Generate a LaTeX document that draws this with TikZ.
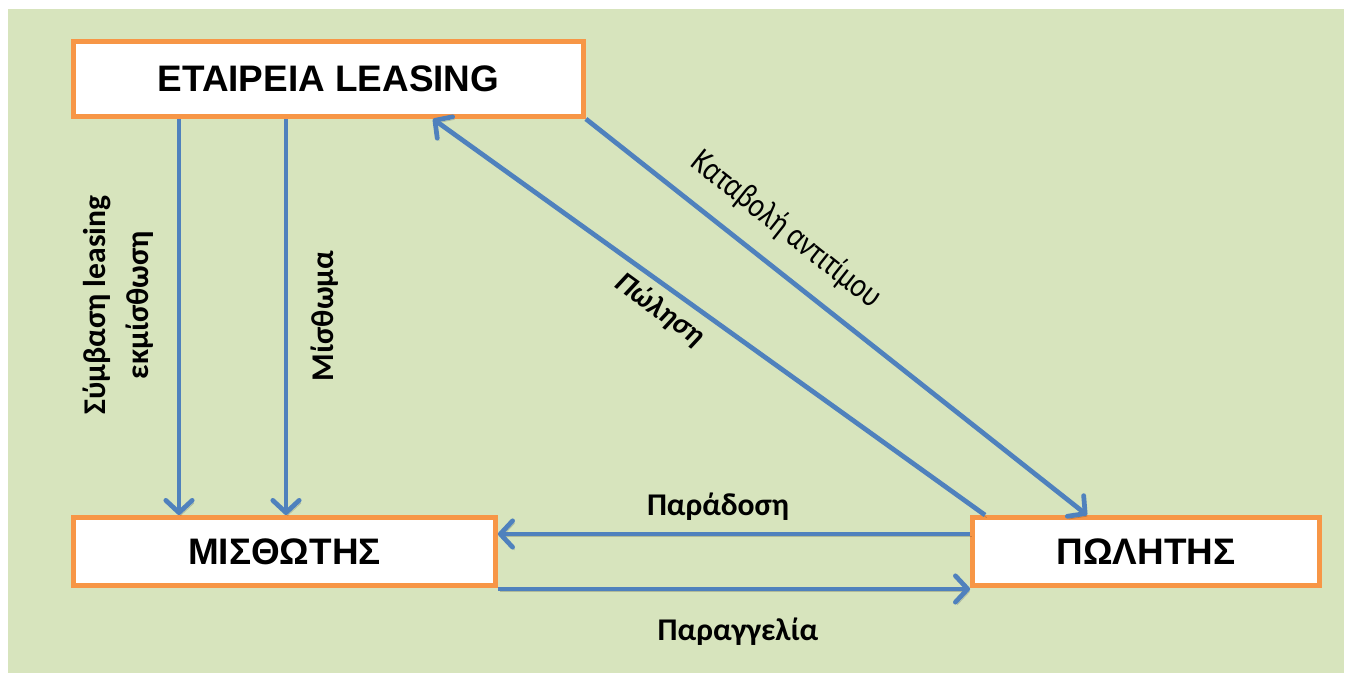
\documentclass[tikz,border=0pt]{standalone}
\usepackage{fontspec}
\setmainfont{Carlito}
\newfontfamily\boxfont{Liberation Sans}
\usetikzlibrary{arrows.meta}
\definecolor{bggreen}{HTML}{D7E4BD}
\definecolor{boxorange}{HTML}{F79646}
\definecolor{arrblue}{HTML}{4F81BD}

\begin{document}
\begin{tikzpicture}[x=0.02cm,y=-0.02cm,
	box/.style={draw=boxorange,fill=white,line width=2.8pt,inner sep=0pt,font=\boxfont\bfseries\fontsize{21}{25}\selectfont},
	arr/.style={draw=arrblue,line width=2.7pt,-{Straight Barb[length=7pt,width=15pt,round]},
		preaction={draw=black,opacity=0.18,transform canvas={shift={(1pt,-1.5pt)}}}},
	lbl/.style={inner sep=0pt,font=\bfseries\fontsize{18}{24.5}\selectfont}]
\useasboundingbox (0,0) rectangle (1351,673);
\fill [bggreen] (8,9) rectangle (1344,673);

	% Boxes
\node [box,minimum width=10.2cm,minimum height=1.5cm] (n1) at (328.5,79) {ΕΤΑΙΡΕΙΑ LEASING};
\node [box,minimum width=8.44cm,minimum height=1.36cm] (n2) at (284.5,551.5) {ΜΙΣΘΩΤΗΣ};
\node [box,minimum width=6.94cm,minimum height=1.36cm] (n3) at (1146,551.5) {ΠΩΛΗΤΗΣ};

	% Arrows
\coordinate (c1) at (179,0);
\coordinate (c2) at (286,0);
\coordinate (c3) at (1087,0);
\coordinate (c4) at (985,0);
\coordinate (c5) at (433,0);
\coordinate (c6) at (0,534);
\coordinate (c7) at (0,589);
\draw [arr] (c1 |- n1.south) -- (c1 |- n2.north);
\draw [arr] (c2 |- n1.south) -- (c2 |- n2.north);
\draw [arr] (n1.south east) -- (c3 |- n3.north);
\draw [arr] (c4 |- n3.north) -- (c5 |- n1.south);
\draw [arr] (n3.west |- c6) -- (n2.east |- c6);
\draw [arr] (n2.east |- c7) -- (n3.west |- c7);

	% Labels
\node [lbl,rotate=90,align=center] (l1) at (118,305) {Σύμβαση leasing\\εκμίσθωση};
\node [lbl,rotate=90] (l2) at (325,316) {Μίσθωμα};
\node [lbl,font=\fontsize{20}{24}\selectfont,rotate=-38.4,xscale=0.8] (l3) at (786,230) {Καταβολή αντιτίμου};
\node [lbl,font=\bfseries\itshape\fontsize{17}{20}\selectfont,rotate=-36] (l4) at (660,310) {Πώληση};
\node [lbl] (l5) at (718,507) {Παράδοση};
\node [lbl] (l6) at (738,632) {Παραγγελία};
\end{tikzpicture}
\end{document}
